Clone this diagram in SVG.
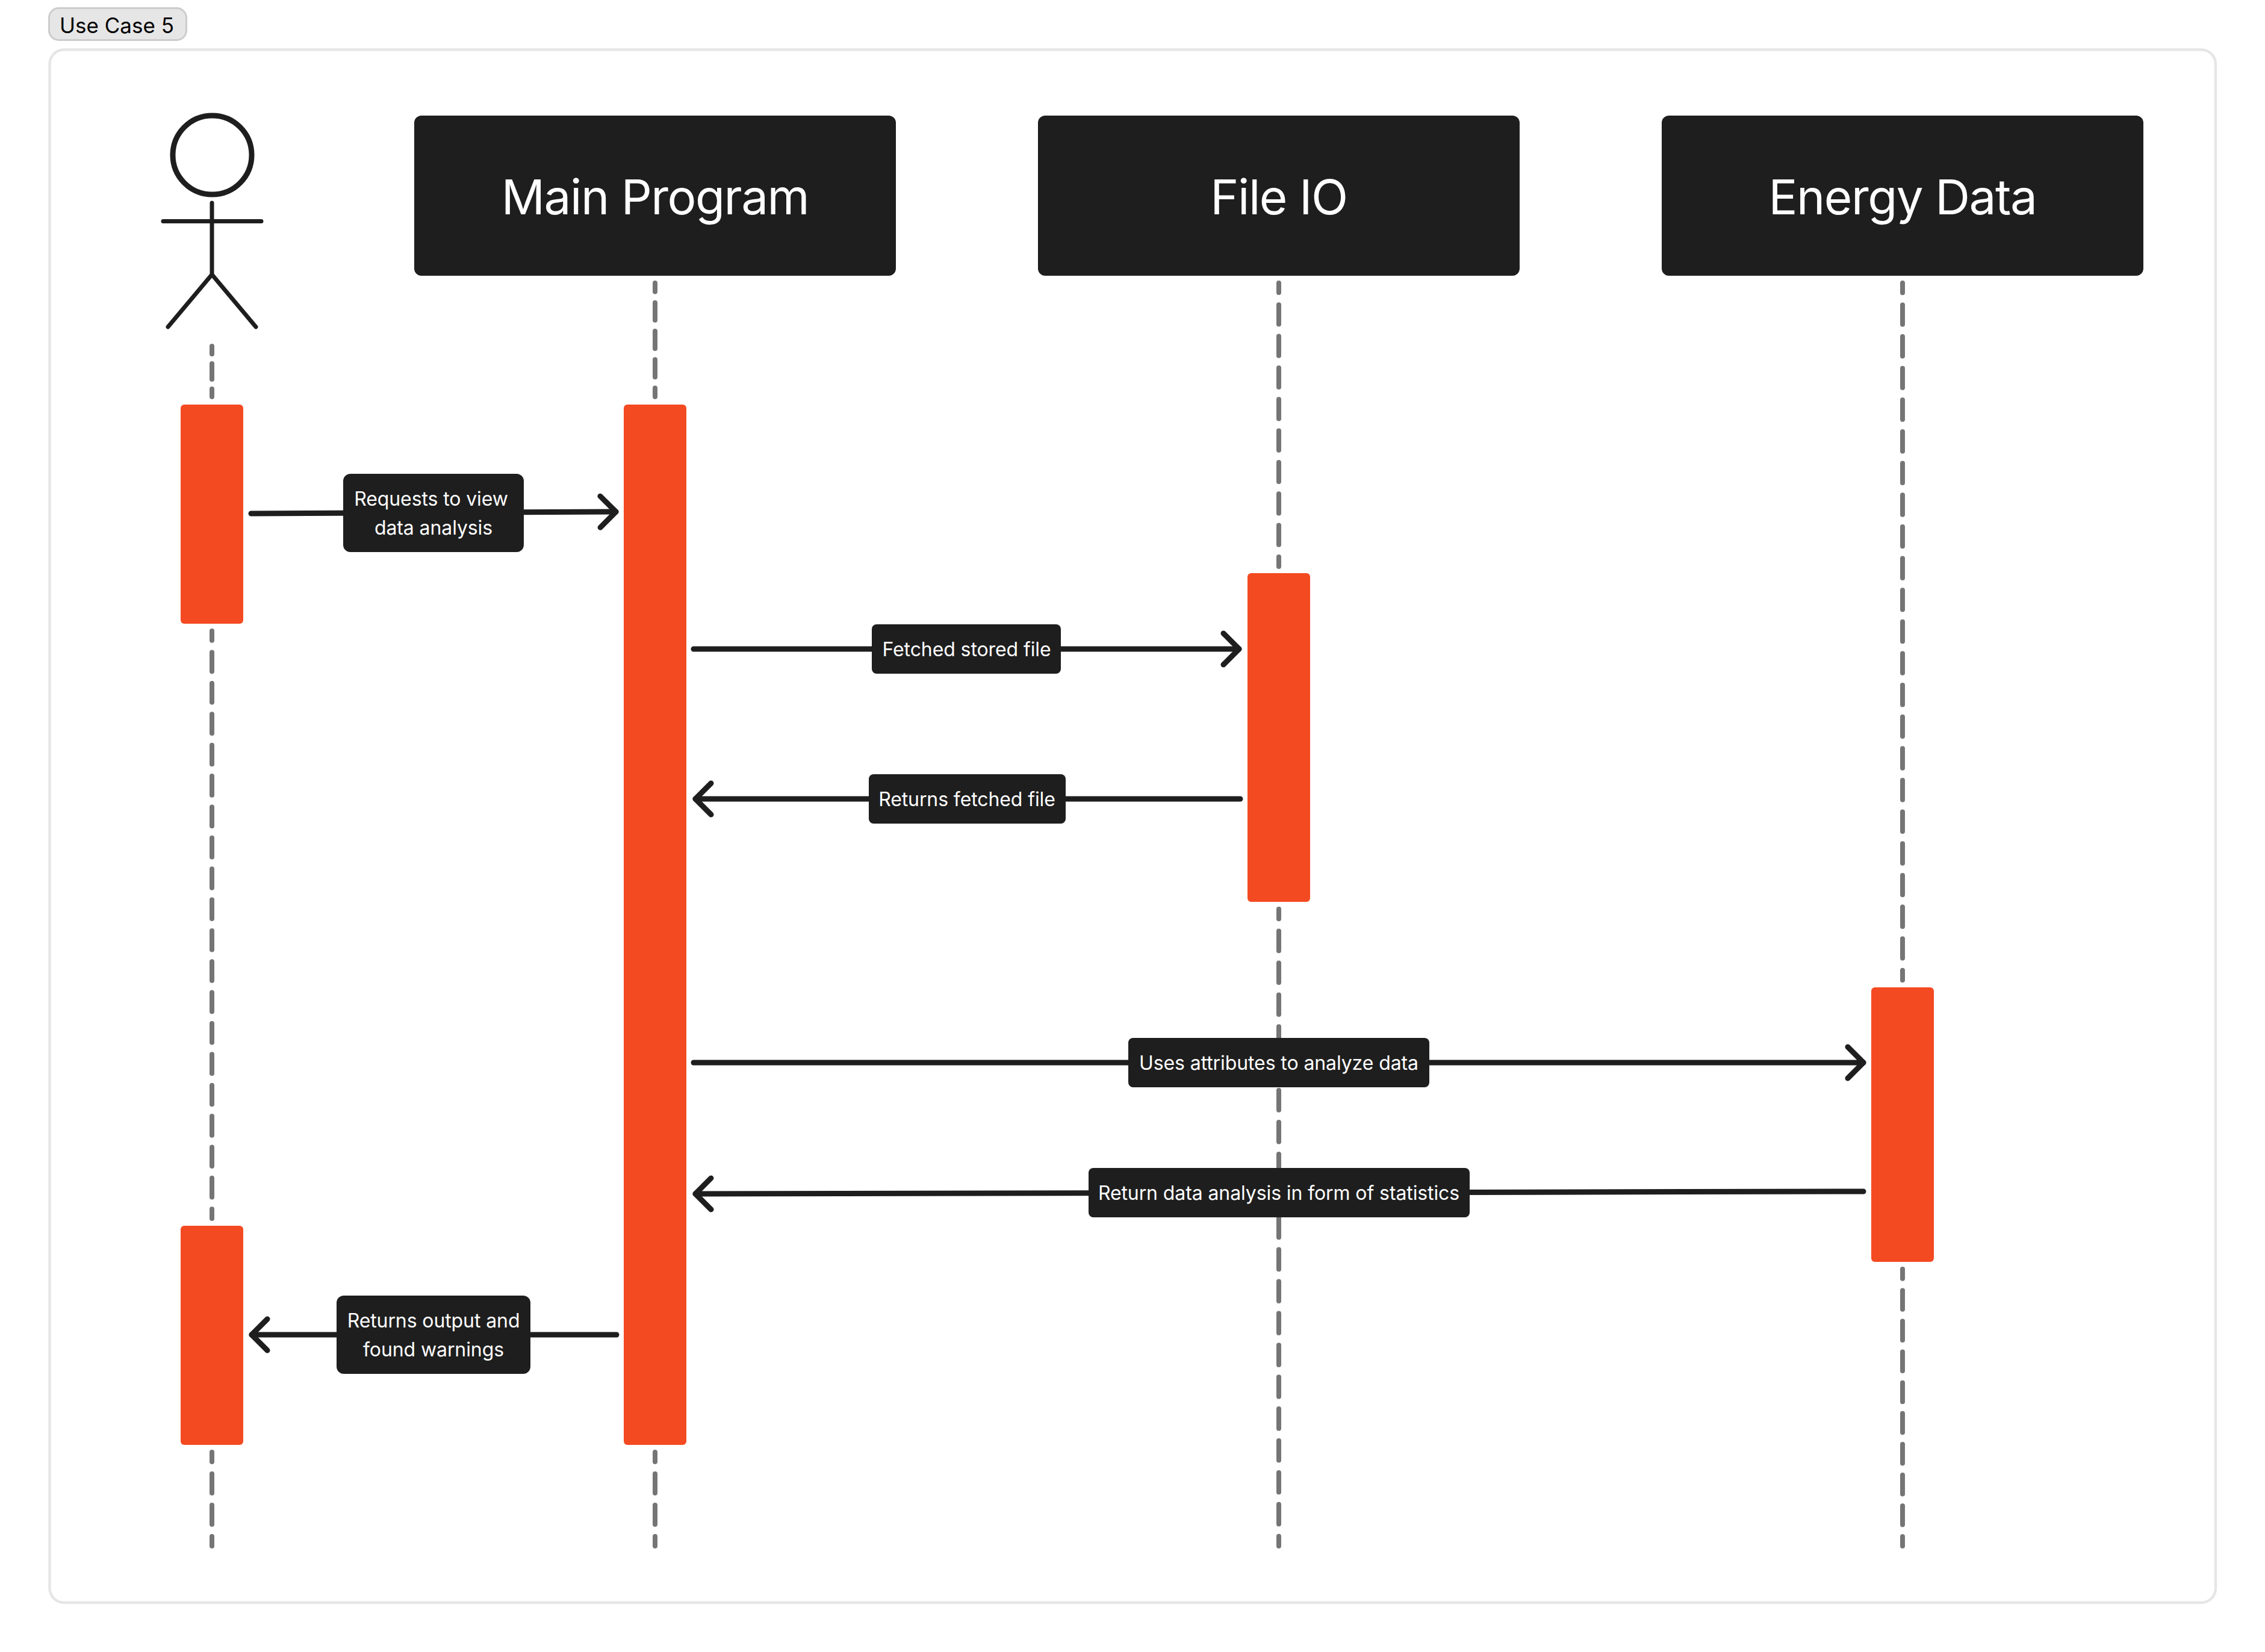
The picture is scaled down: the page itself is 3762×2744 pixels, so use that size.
<svg xmlns="http://www.w3.org/2000/svg" width="3762" height="2744" viewBox="0 0 3762 2744">
  <style>
    text { font-family: "Inter", "Liberation Sans", sans-serif; text-anchor: middle; }
    .tag { fill: #e6e6e6; stroke: #cccccc; stroke-width: 3; }
    .tagtext { font-size: 35px; fill: #000000; }
    .frame { fill: #ffffff; stroke: #e6e6e6; stroke-width: 4.5; }
    .head { fill: #1e1e1e; }
    .headtext { font-size: 80px; letter-spacing: -1.5px; fill: #ffffff; }
    .bar { fill: #f44a22; }
    .life { stroke: #757575; stroke-width: 8; stroke-linecap: round; stroke-dasharray: 32 20; stroke-dashoffset: 16; fill: none; }
    .msg { stroke: #1e1e1e; stroke-width: 9; stroke-linecap: round; fill: none; }
    .arrow { marker-end: url(#chevron); }
    .actor { stroke: #1e1e1e; stroke-width: 7; stroke-linecap: round; fill: none; }
    .label { fill: #1e1e1e; }
    .labeltext { font-size: 32px; letter-spacing: -0.1px; fill: #ffffff; }
  </style>
  <defs>
    <marker id="chevron" markerUnits="userSpaceOnUse" markerWidth="50" markerHeight="70" viewBox="0 0 50 70" refX="35" refY="35" orient="auto" overflow="visible">
      <path d="M9 9 L35 35 L9 61" fill="none" stroke="#1e1e1e" stroke-width="9" stroke-linecap="round" stroke-linejoin="round"/>
    </marker>
  </defs>
  <rect width="3762" height="2744" fill="#ffffff"/>
  <g id="tag-use-case-5">
    <rect class="tag" x="81.5" y="13.5" width="228" height="53" rx="16"/>
    <text class="tagtext" x="194" y="55">Use Case 5</text>
  </g>
  <rect id="frame" class="frame" x="82.5" y="82.5" width="3597.5" height="2579.5" rx="24"/>
  <g id="connectors">
    <g id="lifelines">
      <line class="life" x1="352" y1="575" x2="352" y2="659" pathLength="104"/>
      <line class="life" x1="352" y1="1048" x2="352" y2="2024" pathLength="988"/>
      <line class="life" x1="352" y1="2412" x2="352" y2="2568" pathLength="156"/>
      <line class="life" x1="1088" y1="470" x2="1088" y2="659" pathLength="208"/>
      <line class="life" x1="1088" y1="2412" x2="1088" y2="2568" pathLength="156"/>
      <line class="life" x1="2124" y1="470" x2="2124" y2="941" pathLength="468"/>
      <line class="life" x1="2124" y1="1510" x2="2124" y2="2568" pathLength="1040"/>
      <line class="life" x1="3160" y1="470" x2="3160" y2="1628" pathLength="1144"/>
      <line class="life" x1="3160" y1="2108" x2="3160" y2="2568" pathLength="468"/>
    </g>
    <g id="messages">
      <line class="msg arrow" x1="417" y1="853" x2="1023" y2="850"/>
      <line class="msg arrow" x1="1152" y1="1078" x2="2058" y2="1078"/>
      <line class="msg arrow" x1="2060" y1="1327" x2="1155" y2="1327"/>
      <line class="msg arrow" x1="1152" y1="1765" x2="3095" y2="1765"/>
      <line class="msg arrow" x1="3095" y1="1979" x2="1155" y2="1983"/>
      <line class="msg arrow" x1="1024" y1="2217" x2="418" y2="2217"/>
    </g>
  </g>
  <g id="actor">
    <circle cx="352.5" cy="257.5" r="65.5" fill="#ffffff" stroke="#1e1e1e" stroke-width="9"/>
    <path class="actor" d="M352 337 V456 M271 367.5 H434 M279 543 L352 456 L425 543" stroke-linejoin="round"/>
  </g>
  <g id="main-program">
    <rect class="head" x="688" y="192" width="800" height="266" rx="12"/>
    <text class="headtext" x="1088" y="356">Main Program</text>
  </g>
  <g id="file-io">
    <rect class="head" x="1724" y="192" width="800" height="266" rx="12"/>
    <text class="headtext" x="2124" y="356">File IO</text>
  </g>
  <g id="energy-data">
    <rect class="head" x="2760" y="192" width="800" height="266" rx="12"/>
    <text class="headtext" x="3160" y="356">Energy Data</text>
  </g>
  <g id="activation-actor-1"><rect class="bar" x="300" y="672" width="104" height="364" rx="6"/></g>
  <g id="activation-actor-2"><rect class="bar" x="300" y="2036" width="104" height="364" rx="6"/></g>
  <g id="activation-main"><rect class="bar" x="1036" y="672" width="104" height="1728" rx="6"/></g>
  <g id="activation-file-io"><rect class="bar" x="2072" y="952" width="104" height="546" rx="6"/></g>
  <g id="activation-energy"><rect class="bar" x="3108" y="1640" width="104" height="456" rx="6"/></g>
  <g id="label-requests">
    <rect class="label" x="570" y="787" width="300" height="130" rx="12"/>
    <text class="labeltext" x="716" y="840">Requests to view</text>
    <text class="labeltext" x="720" y="888">data analysis</text>
  </g>
  <g id="label-fetched">
    <rect class="label" x="1448" y="1037" width="314" height="82" rx="8"/>
    <text class="labeltext" x="1605.5" y="1090">Fetched stored file</text>
  </g>
  <g id="label-returns-fetched">
    <rect class="label" x="1443" y="1286" width="327" height="82" rx="8"/>
    <text class="labeltext" x="1606" y="1339">Returns fetched file</text>
  </g>
  <g id="label-uses">
    <rect class="label" x="1874" y="1724" width="500" height="82" rx="8"/>
    <text class="labeltext" x="2124" y="1777">Uses attributes to analyze data</text>
  </g>
  <g id="label-return-data">
    <rect class="label" x="1808" y="1940" width="633" height="82" rx="8"/>
    <text class="labeltext" x="2124" y="1993">Return data analysis in form of statistics</text>
  </g>
  <g id="label-returns-output">
    <rect class="label" x="559" y="2152" width="322" height="130" rx="12"/>
    <text class="labeltext" x="720" y="2205">Returns output and</text>
    <text class="labeltext" x="720" y="2253">found warnings</text>
  </g>
</svg>
